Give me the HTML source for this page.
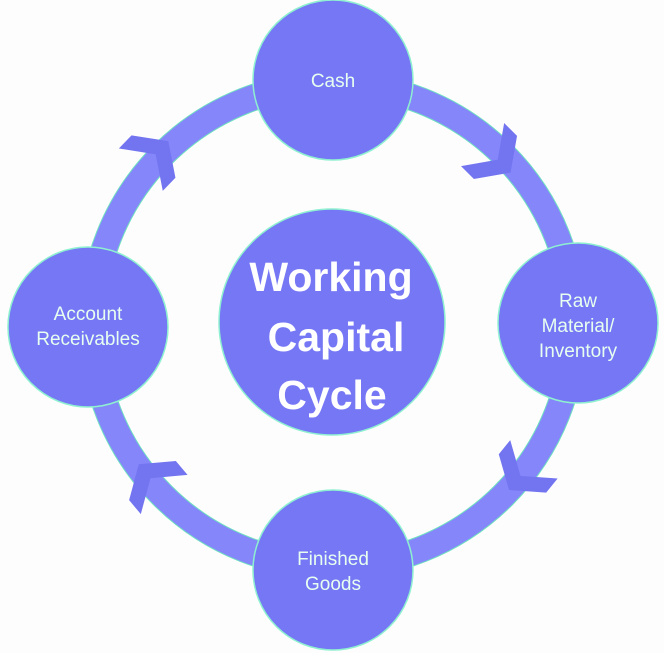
<!DOCTYPE html>
<html><head><style>
html,body{margin:0;padding:0;background:#fdfdfe;}
svg{display:block;}
text{font-family:"Liberation Sans",sans-serif;}
</style></head><body>
<svg width="664" height="653" viewBox="0 0 664 653">
<circle cx="333" cy="325" r="241" fill="none" stroke="#6fe0c0" stroke-width="27"/>
<circle cx="333" cy="325" r="241" fill="none" stroke="#8486fa" stroke-width="25"/>
<g fill="#7375f0" stroke="#7375f0" stroke-width="1">
<polygon points="-18,-30 -1,-30 20,0 -1,30 -18,30 3,0" transform="translate(496,158) rotate(45)"/>
<polygon points="-18,-30 -1,-30 20,0 -1,30 -18,30 3,0" transform="translate(522,474) rotate(129)"/>
<polygon points="-18,-30 -1,-30 20,0 -1,30 -18,30 3,0" transform="translate(152,480) rotate(230)"/>
<polygon points="-18,-30 -1,-30 20,0 -1,30 -18,30 3,0" transform="translate(154,156) rotate(314)"/>
</g>
<g fill="#7577f5" stroke="#8ef0d0" stroke-width="1.5">
<circle cx="333" cy="80" r="80"/>
<circle cx="578" cy="323" r="80"/>
<circle cx="333" cy="570" r="80"/>
<circle cx="88" cy="327" r="80"/>
<circle cx="332" cy="322" r="113"/>
</g>
<g fill="#e6fff0" font-size="19" text-anchor="middle">
<text x="333" y="87">Cash</text>
<text x="578" y="307">Raw</text>
<text x="578" y="332">Material/</text>
<text x="578" y="357">Inventory</text>
<text x="333" y="565">Finished</text>
<text x="333" y="590">Goods</text>
<text x="88" y="320">Account</text>
<text x="88" y="345">Receivables</text>
</g>
<g fill="#ffffff" font-size="41" font-weight="bold" text-anchor="middle">
<text x="331" y="291">Working</text>
<text x="336" y="351">Capital</text>
<text x="332" y="409">Cycle</text>
</g>
</svg>
</body></html>
